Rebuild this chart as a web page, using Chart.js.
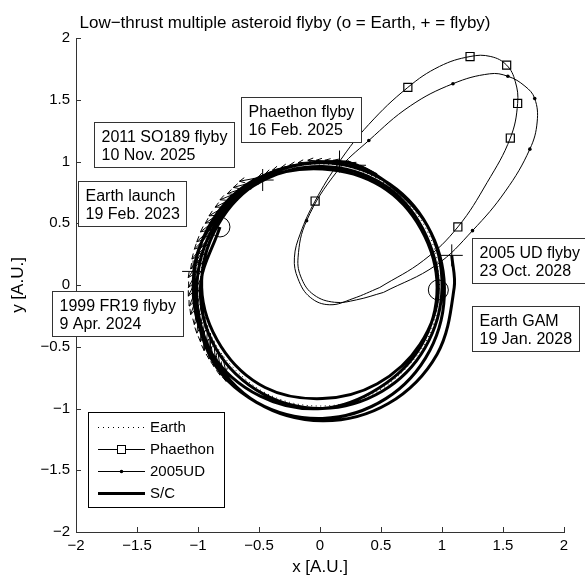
<!DOCTYPE html>
<html>
<head>
<meta charset="utf-8">
<script src="https://cdn.jsdelivr.net/npm/chart.js@4/dist/chart.umd.min.js"></script>
<style>
  html, body { margin: 0; padding: 0; background: #fff; }
  #wrap { width: 585px; height: 579px; }
</style>
</head>
<body>
<div id="wrap"><canvas id="c" width="585" height="579"></canvas></div>
<script>
// ---- axis ticks ----
const tickValues = [-2, -1.5, -1, -0.5, 0, 0.5, 1, 1.5, 2];
const tickLabels = ['\u22122', '\u22121.5', '\u22121', '\u22120.5', '0', '0.5', '1', '1.5', '2'];

// ---- Earth orbit (dotted) ----
const earthX = [0.98, 0.95, 0.85, 0.69, 0.49, 0.25, 0, -0.25, -0.49, -0.69, -0.85, -0.95, -0.98, -0.95, -0.85, -0.69, -0.49, -0.25, 0, 0.25, 0.49, 0.69, 0.85, 0.95, 0.98];
const earthY = [0, 0.25, 0.49, 0.69, 0.85, 0.95, 0.98, 0.95, 0.85, 0.69, 0.49, 0.25, 0, -0.25, -0.49, -0.69, -0.85, -0.95, -0.98, -0.95, -0.85, -0.69, -0.49, -0.25, 0];

// ---- Phaethon orbit (squares at sampled epochs) ----
const phaethonX = [0.49, 0.27, 0.08, -0.08, -0.18, -0.21, -0.16, -0.04, 0.16, 0.40, 0.72, 0.98, 1.23, 1.40, 1.53, 1.60, 1.62, 1.56, 1.37, 1.13, 0.85, 0.49];
const phaethonY = [-0.02, -0.11, -0.16, -0.10, 0.05, 0.22, 0.42, 0.68, 1.00, 1.30, 1.60, 1.77, 1.85, 1.85, 1.78, 1.65, 1.47, 1.19, 0.83, 0.47, 0.20, -0.02];
const phaethonMark = [0, 0, 0, 0, 0, 0, 0, 1, 0, 0, 1, 0, 1, 0, 1, 0, 1, 1, 0, 1, 0, 0];

// ---- 2005 UD orbit (dots at sampled epochs) ----
const udX = [0.52, 0.30, 0.12, -0.05, -0.15, -0.18, -0.11, 0.14, 0.40, 0.74, 1.09, 1.39, 1.54, 1.68, 1.76, 1.78, 1.72, 1.52, 1.25, 0.95, 0.52];
const udY = [-0.06, -0.12, -0.14, -0.08, 0.05, 0.22, 0.52, 0.92, 1.17, 1.45, 1.63, 1.71, 1.69, 1.61, 1.51, 1.32, 1.10, 0.76, 0.44, 0.16, -0.06];
const udMark = [0, 0, 0, 0, 0, 0, 1, 0, 1, 0, 1, 0, 1, 0, 1, 0, 1, 0, 1, 0, 0];

// ---- spacecraft trajectory ----
const scX = [-0.82, -0.98, -0.85, -0.47, 0.02, 0.51, 0.86, 1.00, 0.88, 0.52, 0.02, -0.49, -0.88, -1.03,
             -0.91, -0.52, 0.02, 0.54, 0.90, 1.02, 0.88, 0.52, 0.16, -0.50, -0.89, -1.04, -0.89, -0.49,
             0.02, 0.49, 0.83, 0.96, 0.83, 0.50, 0.02, -0.47, -0.84, -0.97, -0.81, -0.45, 0.02, 0.47, 0.82,
             0.97, 0.84, 0.51, 0.02, -0.48, -0.86, -1.01, -0.89, -0.52, 0.02, 0.56, 0.96, 1.10, 1.08];
const scY = [0.47, -0.02, -0.52, -0.88, -1.00, -0.86, -0.51, -0.02, 0.48, 0.85, 0.99, 0.86, 0.50, 0.11,
             -0.56, -0.95, -1.08, -0.92, -0.53, -0.02, 0.48, 0.85, 1.00, 0.87, 0.51, -0.02, -0.55, -0.90,
             -1.00, -0.83, -0.49, -0.02, 0.45, 0.80, 0.94, 0.85, 0.48, -0.02, -0.50, -0.83, -0.92, -0.80, -0.48,
             -0.04, 0.46, 0.82, 0.96, 0.84, 0.49, -0.02, -0.55, -0.95, -1.10, -0.96, -0.56, -0.02, 0.24];

// ---- thrust vectors (tail position, components) ----
const thrX = [
  // outer strand, left arc
  -0.50, -0.56, -0.61, -0.67, -0.72, -0.77, -0.81, -0.85, -0.89, -0.92, -0.95, -0.97, -0.99, -1.00, -1.01, -1.01, -1.01, -1.00, -0.99, -0.97, -0.95, -0.92, -0.89, -0.85, -0.81,
  // inner strand, left arc
  -0.50, -0.56, -0.62, -0.67, -0.72, -0.76, -0.80, -0.84, -0.87, -0.90, -0.92, -0.94, -0.95, -0.96, -0.97, -0.97, -0.96, -0.95, -0.94, -0.92, -0.90, -0.87, -0.84, -0.80,
  // top arc
  0.47, 0.40, 0.34, 0.27, 0.20, 0.13, 0.06, -0.02, -0.09, -0.16, -0.23, -0.30, -0.36, -0.43
];
const thrY = [
  0.87, 0.83, 0.79, 0.75, 0.70, 0.64, 0.59, 0.53, 0.46, 0.40, 0.33, 0.26, 0.19, 0.12, 0.05, -0.02, -0.09, -0.16, -0.23, -0.30, -0.37, -0.44, -0.50, -0.57, -0.63,
  0.82, 0.78, 0.74, 0.69, 0.64, 0.59, 0.53, 0.48, 0.41, 0.35, 0.29, 0.22, 0.15, 0.08, 0.01, -0.05, -0.12, -0.19, -0.26, -0.33, -0.39, -0.45, -0.52, -0.57,
  0.90, 0.93, 0.95, 0.97, 0.98, 0.99, 1.00, 1.00, 0.99, 0.98, 0.97, 0.95, 0.93, 0.90
];
const thrU = [
  -0.16, -0.15, -0.15, -0.15, -0.14, -0.14, -0.13, -0.13, -0.12, -0.11, -0.10, -0.09, -0.09, -0.08, -0.07, -0.06, -0.05, -0.03, -0.02, -0.01, 0.00, 0.01, 0.02, 0.03, 0.04,
  -0.14, -0.14, -0.14, -0.13, -0.13, -0.12, -0.12, -0.11, -0.11, -0.10, -0.09, -0.08, -0.08, -0.07, -0.06, -0.05, -0.04, -0.03, -0.02, -0.01, 0.00, 0.01, 0.02, 0.03,
  -0.14, -0.15, -0.15, -0.16, -0.16, -0.16, -0.16, -0.16, -0.16, -0.16, -0.16, -0.15, -0.15, -0.14
];
const thrV = [
  -0.03, -0.04, -0.05, -0.06, -0.07, -0.08, -0.09, -0.10, -0.11, -0.11, -0.12, -0.13, -0.13, -0.14, -0.14, -0.15, -0.15, -0.16, -0.16, -0.16, -0.16, -0.16, -0.16, -0.16, -0.15,
  -0.04, -0.05, -0.05, -0.06, -0.07, -0.08, -0.09, -0.09, -0.10, -0.10, -0.11, -0.12, -0.12, -0.13, -0.13, -0.14, -0.14, -0.14, -0.14, -0.14, -0.14, -0.14, -0.14, -0.14,
  0.07, 0.06, 0.05, 0.04, 0.03, 0.02, 0.01, -0.01, -0.02, -0.03, -0.04, -0.05, -0.06, -0.07
];

// ---- Earth encounters (o) and asteroid flybys (+) ----
const earthPosX = [-0.82, 0.97];
const earthPosY = [0.47, -0.04];
const flybyX = [-1.04, 0.16, -0.47, 1.08];
const flybyY = [0.11, 1.00, 0.85, 0.24];

// ---- event labels ----
const eventText = [
  ['Phaethon flyby', '16 Feb. 2025'],
  ['2011 SO189 flyby', '10 Nov. 2025'],
  ['Earth launch', '19 Feb. 2023'],
  ['1999 FR19 flyby', '9 Apr. 2024'],
  ['2005 UD flyby', '23 Oct. 2028'],
  ['Earth GAM', '19 Jan. 2028']
];
const legendNames = ['Earth', 'Phaethon', '2005UD', 'S/C'];

// label box anchors (upper-left corner, data units)
const boxAnchorX = [-0.648, -1.852, -1.984, -2.197, 1.246, 1.246];
const boxAnchorY = [1.522, 1.320, 0.842, -0.049, 0.381, -0.170];

const FONT = '"Liberation Sans", Arial, Helvetica, sans-serif';
const AXIS = '#333';

const toXY = (xs, ys) => xs.map((x, i) => ({ x: x, y: ys[i] }));

// quiver: shaft plus two-stroke head for each thrust vector
function quiverPoints() {
  const pts = [];
  const gap = { x: null, y: null };
  for (let i = 0; i < thrX.length; i++) {
    const x0 = thrX[i], y0 = thrY[i];
    const x1 = x0 + thrU[i], y1 = y0 + thrV[i];
    const len = Math.hypot(thrU[i], thrV[i]);
    const ang = Math.atan2(thrV[i], thrU[i]);
    const h = 0.3 * len, a = 0.45;
    pts.push({ x: x0, y: y0 }, { x: x1, y: y1 }, gap);
    pts.push({ x: x1 - h * Math.cos(ang - a), y: y1 - h * Math.sin(ang - a) },
             { x: x1, y: y1 },
             { x: x1 - h * Math.cos(ang + a), y: y1 - h * Math.sin(ang + a) }, gap);
  }
  return pts;
}

// inward tick marks on the left and bottom axes
const inwardTicks = {
  id: 'inwardTicks',
  beforeDatasetsDraw(chart) {
    const { ctx, chartArea: a, scales: { x, y } } = chart;
    ctx.save();
    ctx.strokeStyle = AXIS;
    ctx.lineWidth = 1;
    ctx.beginPath();
    tickValues.forEach(v => {
      const px = Math.round(x.getPixelForValue(v)) + 0.5;
      ctx.moveTo(px, a.bottom);
      ctx.lineTo(px, a.bottom - 5);
      const py = Math.round(y.getPixelForValue(v)) + 0.5;
      ctx.moveTo(a.left, py);
      ctx.lineTo(a.left + 5, py);
    });
    ctx.stroke();
    ctx.restore();
  }
};

// title, event boxes and legend
const overlay = {
  id: 'overlay',
  afterDraw(chart) {
    const { ctx, scales: { x, y } } = chart;
    ctx.save();

    ctx.fillStyle = '#000';
    ctx.font = '17px ' + FONT;
    ctx.textAlign = 'center';
    ctx.textBaseline = 'alphabetic';
    ctx.fillText('Low\u2212thrust multiple asteroid flyby (o = Earth, + = flyby)', 285, 28);

    ctx.textAlign = 'left';
    ctx.font = '16px ' + FONT;
    eventText.forEach((lines, i) => {
      const left = Math.round(x.getPixelForValue(boxAnchorX[i])) + 0.5;
      const top = Math.round(y.getPixelForValue(boxAnchorY[i])) + 0.5;
      const w = Math.round(Math.max(...lines.map(t => ctx.measureText(t).width)) + 14);
      const h = 45;
      ctx.fillStyle = '#fff';
      ctx.fillRect(left, top, w, h);
      ctx.strokeStyle = AXIS;
      ctx.lineWidth = 1;
      ctx.strokeRect(left, top, w, h);
      ctx.fillStyle = '#000';
      lines.forEach((t, k) => ctx.fillText(t, left + 7, top + 19 + 18 * k));
    });

    // legend
    const bx = 88.5, by = 412.5, bw = 136, bh = 95;
    ctx.fillStyle = '#fff';
    ctx.fillRect(bx, by, bw, bh);
    ctx.strokeStyle = '#000';
    ctx.lineWidth = 1;
    ctx.strokeRect(bx, by, bw, bh);
    ctx.font = '15px ' + FONT;
    ctx.textBaseline = 'middle';
    const x0 = 98, x1 = 145;
    legendNames.forEach((name, i) => {
      const ry = Math.round(427 + 22 * i) + 0.5;
      ctx.strokeStyle = '#000';
      ctx.setLineDash(i === 0 ? [1, 4] : []);
      ctx.lineWidth = i === 3 ? 3 : 1;
      ctx.beginPath();
      ctx.moveTo(x0, ry);
      ctx.lineTo(x1, ry);
      ctx.stroke();
      ctx.setLineDash([]);
      const cx = (x0 + x1) / 2;
      if (i === 1) {
        ctx.lineWidth = 1;
        ctx.fillStyle = '#fff';
        ctx.fillRect(cx - 4, ry - 4, 8, 8);
        ctx.strokeRect(cx - 4, ry - 4, 8, 8);
      } else if (i === 2) {
        ctx.fillStyle = '#000';
        ctx.beginPath();
        ctx.arc(cx, ry, 1.8, 0, Math.PI * 2);
        ctx.fill();
      }
      ctx.fillStyle = '#000';
      ctx.fillText(name, 150, ry + 0.5);
    });
    ctx.restore();
  }
};

const thin = { showLine: true, borderColor: '#000', borderWidth: 1, backgroundColor: '#000', tension: 0.4 };

new Chart(document.getElementById('c'), {
  type: 'scatter',
  data: {
    datasets: [
      Object.assign({}, thin, {
        label: 'Earth', data: toXY(earthX, earthY), borderDash: [1, 3.5], pointRadius: 0, tension: 0.34
      }),
      Object.assign({}, thin, {
        label: 'Phaethon', data: toXY(phaethonX, phaethonY), pointStyle: 'rect',
        pointRadius: c => phaethonMark[c.dataIndex] ? 5.7 : 0,
        pointBackgroundColor: 'rgba(0,0,0,0)', pointBorderColor: '#000', pointBorderWidth: 1.2
      }),
      Object.assign({}, thin, {
        label: '2005UD', data: toXY(udX, udY), pointStyle: 'circle',
        pointRadius: c => udMark[c.dataIndex] ? 1.8 : 0,
        pointBackgroundColor: '#000', pointBorderWidth: 0
      }),
      Object.assign({}, thin, {
        label: 'thrust', data: quiverPoints(), borderWidth: 1, tension: 0, pointRadius: 0, spanGaps: false
      }),
      Object.assign({}, thin, {
        label: 'S/C', data: toXY(scX, scY), borderWidth: 3, pointRadius: 0, tension: 0.35
      }),
      {
        label: 'Earth position', data: toXY(earthPosX, earthPosY), showLine: false,
        pointStyle: 'circle', pointRadius: 10, pointBackgroundColor: 'rgba(0,0,0,0)',
        pointBorderColor: '#000', pointBorderWidth: 1
      },
      {
        label: 'flyby', data: toXY(flybyX, flybyY), showLine: false,
        pointStyle: 'cross', pointRadius: 11, pointBorderColor: '#000', pointBorderWidth: 1
      }
    ]
  },
  options: {
    responsive: false,
    animation: false,
    events: [],
    layout: { padding: { top: 38, right: 21, left: 0, bottom: 0 } },
    plugins: { legend: { display: false }, tooltip: { enabled: false }, title: { display: false } },
    scales: {
      x: {
        type: 'linear', position: 'bottom', min: -2, max: 2,
        afterBuildTicks: s => { s.ticks = tickValues.map(v => ({ value: v })); },
        afterFit: s => { s.height = 47; },
        ticks: {
          callback: (v, i) => tickLabels[i], autoSkip: false, maxRotation: 0,
          font: { family: FONT, size: 15 }, color: '#000', padding: 5
        },
        grid: { display: false, drawTicks: false },
        border: { display: true, color: AXIS, width: 1 },
        title: {
          display: true, text: 'x [A.U.]', color: '#000',
          font: { family: FONT, size: 17 }, padding: { top: 0, bottom: 1 }
        }
      },
      y: {
        type: 'linear', position: 'left', min: -2, max: 2,
        afterBuildTicks: s => { s.ticks = tickValues.map(v => ({ value: v })); },
        afterFit: s => { s.width = 76; },
        ticks: {
          callback: (v, i) => tickLabels[i], autoSkip: false,
          font: { family: FONT, size: 15 }, color: '#000', padding: 6
        },
        grid: { display: false, drawTicks: false },
        border: { display: true, color: AXIS, width: 1 },
        title: {
          display: true, text: 'y [A.U.]', color: '#000',
          font: { family: FONT, size: 17 }, padding: { top: 8, bottom: 0 }
        }
      }
    }
  },
  plugins: [inwardTicks, overlay]
});
</script>
</body>
</html>
